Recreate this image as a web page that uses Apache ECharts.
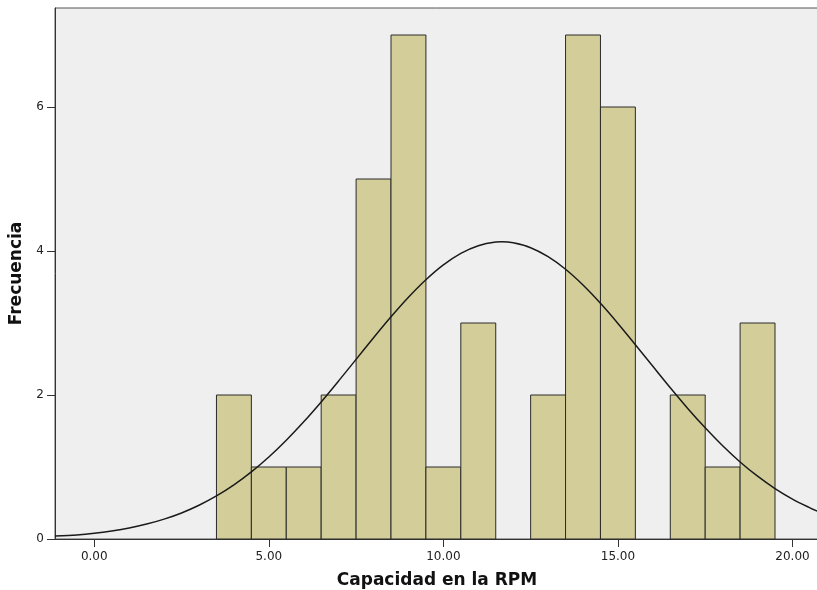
<!DOCTYPE html>
<html>
<head>
<meta charset="utf-8">
<script src="https://cdn.jsdelivr.net/npm/echarts@6/dist/echarts.min.js"></script>
<style>
html,body{margin:0;padding:0;background:#fff;}
#main{width:817px;height:590px;}
</style>
</head>
<body>
<div id="main"></div>
<script>
// Histogram bins (bin centers) and frequencies
var binCenters = [4, 5, 6, 7, 8, 9, 10, 11, 12, 13, 14, 15, 16, 17, 18, 19];
var frequencies = [2, 1, 1, 2, 5, 7, 1, 3, 0, 2, 7, 6, 0, 2, 1, 3];
var binWidth = 1;

// Normal curve points
var curveX = [-1.125, -0.5, 0, 0.5, 1, 1.5, 2, 2.5, 3, 3.5, 4, 4.5, 5, 5.5, 6, 6.5, 7, 7.5, 8, 8.5, 9, 9.5, 10, 10.5, 11, 11.5, 11.67, 12, 12.5, 13, 13.5, 14, 14.5, 15, 15.5, 16, 16.5, 17, 17.5, 18, 18.5, 19, 19.5, 20, 20.5, 20.76];
var curveY = [0.04, 0.057, 0.08, 0.112, 0.153, 0.207, 0.276, 0.362, 0.469, 0.598, 0.752, 0.932, 1.139, 1.372, 1.628, 1.904, 2.196, 2.495, 2.795, 3.086, 3.358, 3.601, 3.807, 3.967, 4.074, 4.124, 4.127, 4.114, 4.046, 3.921, 3.746, 3.527, 3.273, 2.994, 2.699, 2.399, 2.101, 1.814, 1.544, 1.295, 1.070, 0.872, 0.700, 0.554, 0.433, 0.376];

// Tick labels
var xTickValues = [0, 5, 10, 15, 20];
var xTickLabels = ['0.00', '5.00', '10.00', '15.00', '20.00'];

var xMin = -1.125, xMax = 20.76, yMin = 0, yMax = 7.375;

var barData = binCenters.map(function (c, i) { return [c - binWidth / 2, c + binWidth / 2, frequencies[i]]; })
  .filter(function (d) { return d[2] > 0; });
var curveData = curveX.map(function (x, i) { return [x, curveY[i]]; });

var chart = echarts.init(document.getElementById('main'));
var font = '"DejaVu Sans", Verdana, sans-serif';
chart.setOption({
  animation: false,
  grid: {
    left: 55, right: -2, top: 8, bottom: 51,
    containLabel: false, outerBoundsMode: 'none',
    show: true, backgroundColor: '#EFEFEF', borderColor: '#555', borderWidth: 1
  },
  xAxis: {
    type: 'value', min: xMin, max: xMax,
    name: 'Capacidad en la RPM', nameLocation: 'middle', nameGap: 33,
    nameTextStyle: { fontFamily: font, fontWeight: 'bold', fontSize: 17, color: '#111' },
    axisLine: { show: true, onZero: false, lineStyle: { color: '#333', width: 1 } },
    axisTick: { show: true, length: 8, customValues: xTickValues, lineStyle: { color: '#333' } },
    axisLabel: {
      customValues: xTickValues, margin: 12,
      fontFamily: font, fontSize: 12, color: '#222',
      formatter: function (v) { var i = xTickValues.indexOf(v); return i >= 0 ? xTickLabels[i] : ''; }
    },
    splitLine: { show: false }
  },
  yAxis: {
    type: 'value', min: yMin, max: yMax, interval: 2,
    name: 'Frecuencia', nameLocation: 'middle', nameGap: 21,
    nameTextStyle: { fontFamily: font, fontWeight: 'bold', fontSize: 17, color: '#111' },
    axisLine: { show: true, onZero: false, lineStyle: { color: '#333', width: 1 } },
    axisTick: { show: true, length: 8, lineStyle: { color: '#333' } },
    axisLabel: {
      margin: 11, fontFamily: font, fontSize: 12, color: '#222',
      showMaxLabel: false
    },
    splitLine: { show: false }
  },
  series: [
    {
      type: 'custom',
      data: barData,
      renderItem: function (params, api) {
        var p0 = api.coord([api.value(0), api.value(2)]);
        var p1 = api.coord([api.value(1), 0]);
        return {
          type: 'rect',
          shape: { x: p0[0], y: p0[1], width: p1[0] - p0[0], height: p1[1] - p0[1] },
          style: { fill: '#D3CE99', stroke: '#2A2A2A', lineWidth: 1 }
        };
      },
      z: 2
    },
    {
      type: 'line',
      data: curveData,
      smooth: 0.3,
      symbol: 'none',
      lineStyle: { color: '#1A1A1A', width: 1.5 },
      z: 3
    }
  ]
});
</script>
</body>
</html>
